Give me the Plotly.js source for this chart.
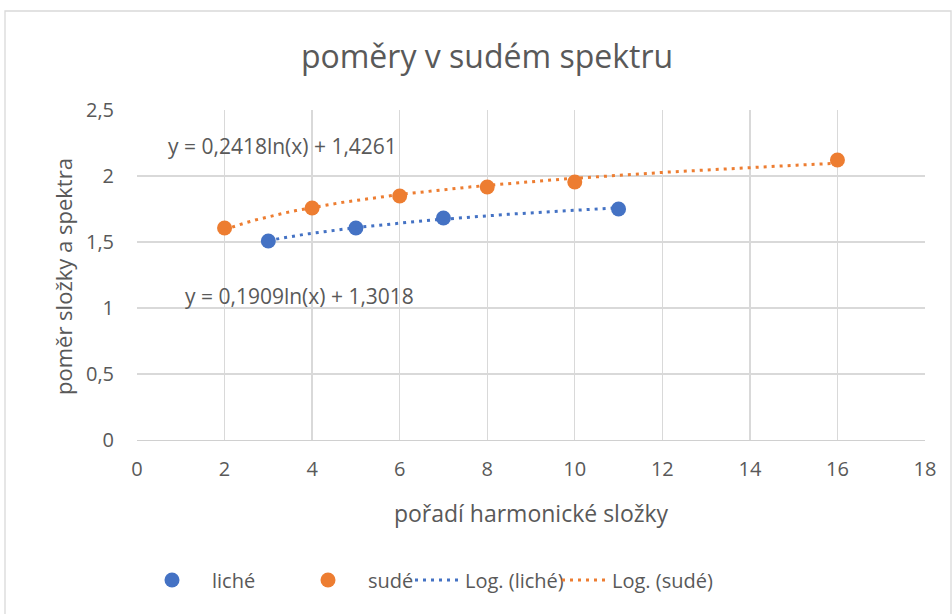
<!DOCTYPE html>
<html>
<head>
<meta charset="utf-8">
<script src="https://cdn.plot.ly/plotly-3.0.1.min.js"></script>
<style>
html,body{margin:0;padding:0;background:#fff;}
#chart{width:952px;height:614px;}
</style>
</head>
<body>
<div id="chart"></div>
<script>
// Data
const lichX = [3, 5, 7, 11];
const lichY = [1.508, 1.606, 1.682, 1.750];
const sudeX = [2, 4, 6, 8, 10, 16];
const sudeY = [1.606, 1.758, 1.848, 1.917, 1.955, 2.121];
// Logarithmic trendline coefficients shown on the chart: y = a*ln(x) + b
const lichTrend = [0.1909, 1.3018];
const sudeTrend = [0.2418, 1.4261];
const lichLabel = "y = 0,1909ln(x) + 1,3018";
const sudeLabel = "y = 0,2418ln(x) + 1,4261";
const xTicks = [0, 2, 4, 6, 8, 10, 12, 14, 16, 18];
const yTicks = [0, 0.5, 1, 1.5, 2, 2.5];

function trend(coef, xs) {
  const x0 = Math.min(...xs), x1 = Math.max(...xs);
  const tx = [], ty = [];
  const n = 60;
  for (let i = 0; i <= n; i++) {
    const x = x0 + (x1 - x0) * i / n;
    tx.push(x);
    ty.push(coef[0] * Math.log(x) + coef[1]);
  }
  return {tx, ty};
}
const tl = trend(lichTrend, lichX);
const ts = trend(sudeTrend, sudeX);

const blue = '#4472C4', orange = '#ED7D31';
const font = "Open Sans, Noto Sans, sans-serif";
const grey = '#595959';

const traces = [
  {x: lichX, y: lichY, name: 'liché', mode: 'markers', type: 'scatter', legend: 'legend',
   marker: {color: blue, size: 15}},
  {x: sudeX, y: sudeY, name: 'sudé', mode: 'markers', type: 'scatter', legend: 'legend2',
   marker: {color: orange, size: 15}},
  {x: tl.tx, y: tl.ty, name: 'Log. (liché)', mode: 'lines', type: 'scatter', legend: 'legend3',
   line: {color: blue, width: 3, dash: '3px,5px'}},
  {x: ts.tx, y: ts.ty, name: 'Log. (sudé)', mode: 'lines', type: 'scatter', legend: 'legend4',
   line: {color: orange, width: 3, dash: '3px,5px'}}
];

const W = 788, H = 330, L = 137, T = 110;
const legY = -(580 - 440) / H;
function leg(px, iw) {
  return {orientation: 'h', x: (px - L) / W, xanchor: 'left', y: legY, yanchor: 'middle',
          font: {size: 20, color: grey}, itemwidth: iw, bgcolor: 'rgba(0,0,0,0)'};
}
const layout = {
  width: 952, height: 614,
  margin: {l: L, r: 952 - L - W, t: T, b: 614 - T - H},
  paper_bgcolor: '#fff', plot_bgcolor: '#fff',
  separators: ', ',
  font: {family: font, color: grey, size: 16},
  title: {text: 'poměry v sudém spektru', font: {family: font, size: 32, color: grey},
          x: 487 / 952, xanchor: 'center', y: 1 - 57 / 614, yanchor: 'middle'},
  xaxis: {range: [0, 18], tickvals: xTicks, ticktext: xTicks.map(String),
          showgrid: true, gridcolor: '#d9d9d9', gridwidth: 1.3,
          zeroline: false, showline: true, linecolor: '#d0d0d0', linewidth: 1.3,
          ticks: '', ticklen: 0, ticklabelstandoff: 11, tickfont: {size: 20, color: grey},
          title: {text: 'pořadí harmonické složky', font: {size: 23, color: grey}, standoff: 24},
          fixedrange: true},
  yaxis: {range: [0, 2.5], tickvals: yTicks, ticktext: yTicks.map(v => String(v).replace('.', ',')),
          showgrid: true, gridcolor: '#d9d9d9', gridwidth: 1.3,
          zeroline: false, showline: false, ticks: '', ticklen: 0, ticklabelstandoff: 22,
          tickfont: {size: 20, color: grey},
          title: {text: ''},
          fixedrange: true},
  legend: leg(132, 70),
  legend2: leg(288, 70),
  legend3: leg(410, 45),
  legend4: leg(557, 45),
  annotations: [
    {x: 3.33, y: 2.227, xref: 'x', yref: 'y', text: sudeLabel, showarrow: false,
     font: {size: 21, color: grey}},
    {x: 3.72, y: 1.09, xref: 'x', yref: 'y', text: lichLabel, showarrow: false,
     font: {size: 21, color: grey}},
    {x: (63 - L) / W, y: (440 - 277) / H, xref: 'paper', yref: 'paper', text: 'poměr složky a spektra',
     textangle: -90, showarrow: false, xanchor: 'center', yanchor: 'middle',
     font: {size: 22, color: grey}}
  ],
  shapes: [
    {type: 'rect', xref: 'paper', yref: 'paper',
     x0: (5 - L) / W, x1: (951 - L) / W, y0: -(620 - T - H) / H, y1: 1 + (T - 11) / H,
     line: {color: '#d9d9d9', width: 1.3}, fillcolor: 'rgba(0,0,0,0)', layer: 'below'}
  ],
  showlegend: true
};

Plotly.newPlot('chart', traces, layout, {displayModeBar: false, staticPlot: true});
</script>
</body>
</html>
